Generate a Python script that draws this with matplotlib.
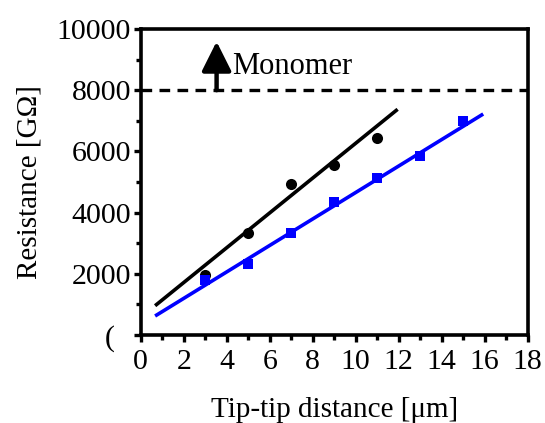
import matplotlib
matplotlib.use("Agg")
import matplotlib.pyplot as plt
from matplotlib.ticker import MultipleLocator

plt.rcParams['font.family'] = ['Liberation Serif', 'DejaVu Serif']

# Data
black_x = [3, 5, 7, 9, 11]
black_y = [1960, 3320, 4935, 5555, 6450]
blue_x = [3, 5, 7, 9, 11, 13, 15]
blue_y = [1800, 2310, 3345, 4355, 5140, 5860, 6990]
black_fit_x = [0.67, 11.95]
black_fit_y = [957, 7376]
blue_fit_x = [0.67, 15.93]
blue_fit_y = [621, 7222]
monomer_level = 8000
arrow_x = 3.53
arrow_top = 9590
xticks = [0, 2, 4, 6, 8, 10, 12, 14, 16, 18]
yticks = [0, 2000, 4000, 6000, 8000, 10000]
ytick_labels = ['', '2000', '4000', '6000', '8000', '10000']

fig = plt.figure(figsize=(5.45, 4.23), dpi=100)
ax = fig.add_axes([140.7/545, 1-335/423, (527.7-140.7)/545, (335-29)/423])

ax.plot(black_fit_x, black_fit_y, color='black', lw=2.6, solid_capstyle='butt', zorder=2)
ax.plot(blue_fit_x, blue_fit_y, color='#0000ff', lw=2.6, solid_capstyle='butt', zorder=2)
ax.plot(black_x, black_y, 'o', color='black', ms=8, mew=0, zorder=3)
ax.plot(blue_x, blue_y, 's', color='#0000ff', ms=7.5, mew=0, zorder=3)

ax.axhline(monomer_level, color='black', lw=2.4, dashes=(3.2, 2.2), zorder=2, clip_on=False)
ax.annotate('', xy=(arrow_x, arrow_top), xytext=(arrow_x, monomer_level),
            arrowprops=dict(arrowstyle='-|>,head_length=1.0,head_width=0.5',
                            mutation_scale=18, color='black', lw=3.2,
                            shrinkA=0, shrinkB=0))
ax.text(arrow_x + 0.7, 8530, 'Monomer', fontsize=22, ha='left', va='baseline')

ax.set_xlim(0, 18)
ax.set_ylim(0, 10000)
ax.set_xticks(xticks)
ax.set_xticklabels([str(v) for v in xticks])
ax.set_yticks(yticks)
ax.set_yticklabels(ytick_labels)
ax.xaxis.set_minor_locator(MultipleLocator(1))
ax.yaxis.set_minor_locator(MultipleLocator(1000))
ax.tick_params(which='major', direction='out', length=5, width=2.4, labelsize=21.5)
ax.tick_params(which='minor', direction='out', length=3.5, width=2.4)
ax.tick_params(axis='x', which='major', pad=5)
ax.tick_params(axis='y', which='major', pad=2)
for s in ax.spines.values():
    s.set_linewidth(2.6)

ax.text(-0.079, -0.012, '(', transform=ax.transAxes, fontsize=21.5, ha='center', va='center')

ax.set_xlabel('Tip-tip distance [μm]', fontsize=21, labelpad=16)
ax.set_ylabel('Resistance [GΩ]', fontsize=21, labelpad=10)

fig.savefig('out.png', dpi=100)
